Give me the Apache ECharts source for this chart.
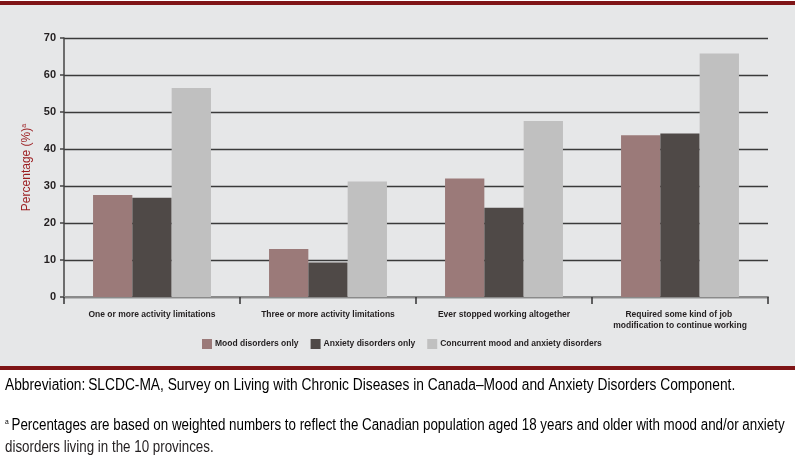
<!DOCTYPE html>
<html><head><meta charset="utf-8">
<script src="https://cdn.jsdelivr.net/npm/echarts@6/dist/echarts.min.js"></script>
<style>html,body{margin:0;padding:0;background:#fff}#c{width:795px;height:461px}</style>
</head><body><div id="c"></div>
<script>
var categories = ['One or more activity limitations','Three or more activity limitations','Ever stopped working altogether','Required some kind of job modification to continue working'];
var seriesNames = ['Mood disorders only','Anxiety disorders only','Concurrent mood and anxiety disorders'];
var moodOnly = [27.6, 13.0, 32.0, 43.7];
var anxietyOnly = [26.8, 9.3, 24.1, 44.2];
var concurrent = [56.5, 31.2, 47.6, 65.8];
var yTicks = [0, 10, 20, 30, 40, 50, 60, 70];
var colors = ['#9b7a79', '#4f4947', '#c0c0c0'];
var FONT = '"Liberation Sans", Arial, sans-serif';

var chart = echarts.init(document.getElementById('c'));
var data = [moodOnly, anxietyOnly, concurrent];
chart.setOption({
  animation: false,
  backgroundColor: '#ffffff',
  textStyle: { fontFamily: FONT },
  grid: { left: 64, right: 27, top: 38, bottom: 164 },
  legend: {
    left: 202, top: 339, padding: 0, itemWidth: 10, itemHeight: 10, itemGap: 12,
    icon: 'rect',
    textStyle: { fontFamily: FONT, fontWeight: 'bold', fontSize: 8.5, color: '#231f20', padding: [0,0,0,-2] },
    data: seriesNames
  },
  xAxis: {
    type: 'category', data: categories,
    axisLine: { lineStyle: { color: '#8a8a8a', width: 2 } },
    axisTick: { show: true, length: 7, lineStyle: { color: '#333', width: 1.5 } },
    axisLabel: { fontFamily: FONT, fontWeight: 'bold', fontSize: 8.5, color: '#231f20', margin: 12, width: 150, overflow: 'break', lineHeight: 11, interval: 0 }
  },
  yAxis: {
    type: 'value', min: yTicks[0], max: yTicks[yTicks.length - 1], interval: 10,
    name: '{n|Percentage (%)}{s|a}', nameLocation: 'middle', nameGap: 26, nameRotate: 90,
    nameTextStyle: { rich: { n: { fontFamily: FONT, fontSize: 12, color: '#9b1c1f' }, s: { fontFamily: FONT, fontSize: 7, color: '#9b1c1f', verticalAlign: 'top', padding: [0,0,6,0] } } },
    axisLine: { show: true, lineStyle: { color: '#444', width: 1.5 } },
    axisTick: { show: true, length: 4, lineStyle: { color: '#444', width: 1.5 } },
    axisLabel: { fontFamily: FONT, fontWeight: 'bold', fontSize: 11, color: '#231f20', margin: 8 },
    splitLine: { lineStyle: { color: '#3a3a3a', width: 1.4 } }
  },
  series: seriesNames.map(function (n, i) {
    return { name: n, type: 'bar', data: data[i], barGap: '0%', barCategoryGap: '33%', itemStyle: { color: colors[i] } };
  }),
  graphic: [
    { type: 'rect', z: -10, shape: { x: 0, y: 5, width: 795, height: 361 }, style: { fill: '#e6e7e8' } },
    { type: 'rect', z: -9, shape: { x: 0, y: 1, width: 795, height: 4 }, style: { fill: '#7f1416' } },
    { type: 'rect', z: -9, shape: { x: 0, y: 366, width: 795, height: 4 }, style: { fill: '#7f1416' } },
    { type: 'text', x: 5, y: 378, scaleX: 0.86, style: { text: '{r|Abbreviation:} {b|SLCDC-MA, Survey on Living with Chronic Diseases in Canada–Mood and Anxiety Disorders Component.}',
        rich: { r: { fontFamily: FONT, fontSize: 16, fontWeight: 500, color: '#8b1a1a' }, b: { fontFamily: FONT, fontSize: 16, color: '#231f20' } } } },
    { type: 'text', x: 5, y: 418, scaleX: 0.835, style: { text: '{s|a} {b|Percentages are based on weighted numbers to reflect the Canadian population aged 18 years and older with mood and/or anxiety}',
        rich: { s: { fontFamily: FONT, fontSize: 8, color: '#231f20', verticalAlign: 'top', padding: [0,0,8,0] }, b: { fontFamily: FONT, fontSize: 16, color: '#231f20' } } } },
    { type: 'text', x: 5, y: 440, scaleX: 0.835, style: { text: 'disorders living in the 10 provinces.', fontFamily: FONT, fontSize: 16, fill: '#231f20' } }
  ]
});
</script></body></html>
